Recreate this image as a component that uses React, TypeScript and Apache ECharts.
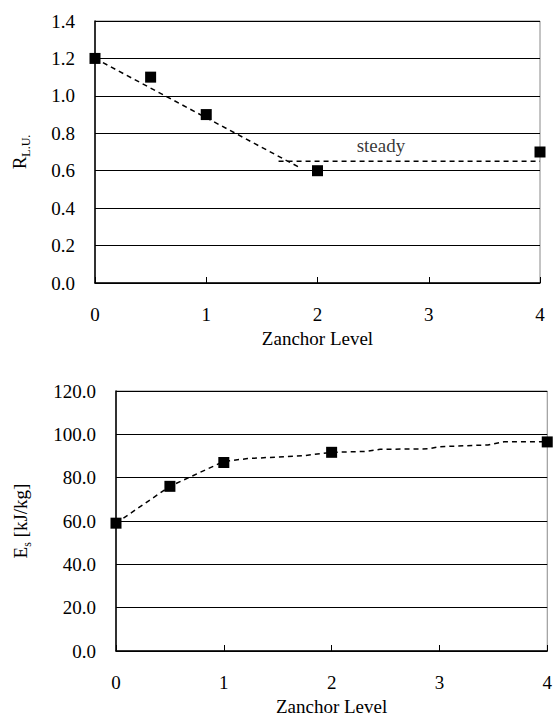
import React, { useEffect, useRef } from "react";
import * as echarts from "echarts";

const xTicks = [0, 1, 2, 3, 4];
const topPoints: [number, number][] = [[0, 1.2], [0.5, 1.1], [1, 0.9], [2, 0.6], [4, 0.7]];
const topDeclineLine: [number, number][] = [[0, 1.2], [1.83, 0.62]];
const topSteadyLine: [number, number][] = [[1.65, 0.65], [4, 0.65]];
const steadyLabelPos: [number, number][] = [[2.57, 0.735]];
const bottomPoints: [number, number][] = [[0, 59], [0.5, 76], [1, 87], [2, 91.7], [4, 96.5]];
const bottomTrend: [number, number][] = [
  [0, 59], [0.5, 76], [1, 87.5], [1.22, 88.8], [1.75, 90.2], [2, 91.7], [2.32, 92.1],
  [2.45, 93.1], [2.9, 93.3], [3.0, 94.3], [3.45, 95.1], [3.6, 96.6], [4, 96.6],
];

const FONT = "'Liberation Serif', 'Times New Roman', serif";
const FS = 19;

function xAxis(gridIndex: number) {
  return {
    type: "value", gridIndex, min: xTicks[0], max: xTicks[xTicks.length - 1], interval: 1,
    name: "Zanchor Level", nameLocation: "middle", nameGap: 46,
    nameTextStyle: { fontFamily: FONT, fontSize: FS, color: "#000" },
    axisLine: { show: true, onZero: false, lineStyle: { color: "#000", width: 1.5 } },
    axisTick: { show: true, inside: true, length: 6, lineStyle: { color: "#000", width: 1 } },
    axisLabel: { fontFamily: FONT, fontSize: FS, color: "#000", margin: 22 },
    splitLine: { show: false },
  };
}

function yAxis(gridIndex: number, max: number, interval: number, name: string, rich: any, gap: number) {
  return {
    type: "value", gridIndex, min: 0, max, interval,
    name, nameLocation: "middle", nameGap: gap, nameRotate: 90,
    nameTextStyle: { fontFamily: FONT, fontSize: FS, color: "#000", rich },
    axisLine: { show: true, onZero: false, lineStyle: { color: "#000", width: 1.5 } },
    axisTick: { show: false },
    axisLabel: { fontFamily: FONT, fontSize: FS, color: "#000", margin: 20, formatter: (v: number) => v.toFixed(1) },
    splitLine: { show: true, lineStyle: { color: "#000", width: 1 } },
  };
}

const richName = {
  r: { fontFamily: FONT, fontSize: FS, color: "#000", verticalAlign: "bottom" },
  s: { fontFamily: FONT, fontSize: 12, color: "#000", verticalAlign: "bottom", padding: [0, 0, -3, 0] },
};

export default function App() {
  const ref = useRef<HTMLDivElement>(null);
  useEffect(() => {
    document.body.style.margin = "0";
    const chart = echarts.init(ref.current!, null, { renderer: "svg" });
    const dashed = { color: "#000", width: 1.5, type: [5, 4] as any };
    const marker = { color: "#000", opacity: 1 };
    chart.setOption({
      animation: false,
      backgroundColor: "#fff",
      textStyle: { fontFamily: FONT },
      grid: [
        { left: 95, right: 15, top: 21, height: 262, show: true, borderColor: "#888", borderWidth: 1 },
        { left: 116, right: 6, top: 391, height: 262, show: true, borderColor: "#888", borderWidth: 1 },
      ],
      xAxis: [xAxis(0), xAxis(1)],
      yAxis: [
        yAxis(0, 1.4, 0.2, "{r|R}{s|L.U.}", richName, 66),
        yAxis(1, 120, 20, "{r|E}{s|s}{r| [kJ/kg]}", richName, 86),
      ],
      series: [
        { type: "line", xAxisIndex: 0, yAxisIndex: 0, data: topDeclineLine, showSymbol: false, symbol: "none", lineStyle: dashed, z: 2 },
        { type: "line", xAxisIndex: 0, yAxisIndex: 0, data: topSteadyLine, showSymbol: false, symbol: "none", lineStyle: dashed, z: 2 },
        { type: "scatter", xAxisIndex: 0, yAxisIndex: 0, data: topPoints, symbol: "rect", symbolSize: 11, itemStyle: marker, clip: false, z: 3 },
        {
          type: "scatter", xAxisIndex: 0, yAxisIndex: 0, data: steadyLabelPos, symbolSize: 0,
          label: { show: true, position: "inside", formatter: "steady", fontFamily: FONT, fontSize: FS, color: "#000" },
        },
        { type: "line", xAxisIndex: 1, yAxisIndex: 1, data: bottomTrend, showSymbol: false, symbol: "none", lineStyle: dashed, z: 2 },
        { type: "scatter", xAxisIndex: 1, yAxisIndex: 1, data: bottomPoints, symbol: "rect", symbolSize: 11, itemStyle: marker, clip: false, z: 3 },
      ],
    });
    return () => chart.dispose();
  }, []);
  return <div ref={ref} style={{ width: 555, height: 717 }} />;
}
